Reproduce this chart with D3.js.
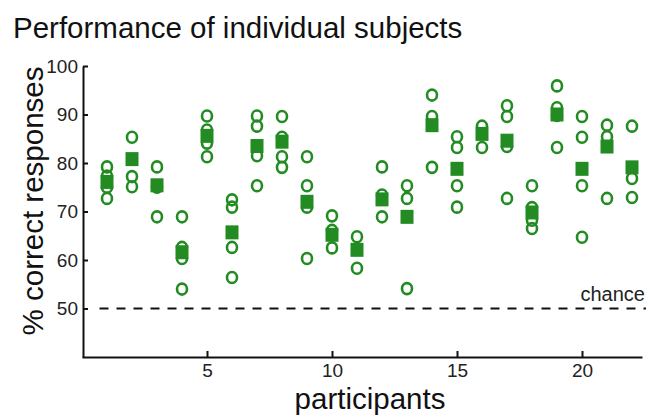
<!DOCTYPE html>
<html>
<head>
<meta charset="utf-8">
<script src="https://cdn.jsdelivr.net/npm/d3@7"></script>
<style>
  body { margin: 0; background: #fff; }
  text { font-family: "Liberation Sans", Arial, sans-serif; }
</style>
</head>
<body>
<div id="chart"></div>
<script>
// participants along the x axis
var participants = [1, 2, 3, 4, 5, 6, 7, 8, 9, 10, 11, 12, 13, 14, 15, 16, 17, 18, 19, 20, 21, 22];

// % correct of each session (open circles)
var sessionScores = [
  [79.2, 77.3, 75.0, 72.7],
  [85.3, 77.2, 75.1],
  [79.2, 75.0, 68.9],
  [68.9, 62.6, 60.3, 54.0],
  [89.7, 86.8, 84.1, 81.3],
  [72.4, 70.9, 62.6, 56.4],
  [89.7, 87.6, 81.5, 75.3],
  [89.6, 85.3, 81.3, 79.1],
  [81.3, 75.3, 70.9, 60.3],
  [69.1, 66.1, 62.5],
  [64.8, 58.3],
  [79.2, 73.4, 68.9],
  [75.3, 72.7, 54.1],
  [94.0, 89.6, 79.1],
  [85.4, 83.2, 75.3, 70.9],
  [87.6, 83.2],
  [91.8, 89.6, 83.4, 72.7],
  [75.3, 70.8, 68.2, 66.5],
  [95.9, 91.4, 89.8, 83.2],
  [89.6, 85.3, 75.3, 64.7],
  [87.8, 85.4, 72.7],
  [87.6, 76.8, 72.9]
];

// overall % correct (filled squares)
var meanScores = [76.1, 80.8, 75.4, 61.6, 85.6, 65.7, 83.5, 84.4, 72.0, 65.2, 62.1, 72.5,
  68.9, 87.8, 78.8, 86.0, 84.6, 69.8, 90.0, 78.8, 83.4, 79.1];

var xTicks = [5, 10, 15, 20];
var yTicks = [50, 60, 70, 80, 90, 100];
var chanceLevel = 50;

var width = 646, height = 416;
var green = "#228b22";

var svg = d3.select("#chart")
  .append("svg")
  .attr("width", width)
  .attr("height", height);

var x = d3.scaleLinear()
  .domain([0, 22.4])
  .range([82, 642]);

var y = d3.scaleLinear()
  .domain([40, 100])
  .range([357, 66]);

// title
svg.append("text")
  .attr("x", 13)
  .attr("y", 38)
  .style("font-size", "29.5px")
  .style("fill", "#111")
  .text("Performance of individual subjects");

// chance line
svg.append("line")
  .attr("x1", x(0.7))
  .attr("x2", width)
  .attr("y1", y(chanceLevel))
  .attr("y2", y(chanceLevel))
  .attr("stroke", "#111")
  .attr("stroke-width", 2)
  .attr("stroke-dasharray", "9,8");

svg.append("text")
  .attr("x", 645)
  .attr("y", 301)
  .attr("text-anchor", "end")
  .style("font-size", "20px")
  .style("fill", "#222")
  .text("chance");

// axes
var xAxis = svg.append("g")
  .attr("transform", "translate(0," + y(40) + ")")
  .call(d3.axisBottom(x)
    .tickValues(xTicks)
    .tickSizeInner(-6)
    .tickSizeOuter(0)
    .tickPadding(7));

var yAxis = svg.append("g")
  .attr("transform", "translate(" + (x(0) + 1) + ",0)")
  .call(d3.axisLeft(y)
    .tickValues(yTicks)
    .tickSizeInner(-5)
    .tickSizeOuter(0)
    .tickPadding(5));

[xAxis, yAxis].forEach(function (g) {
  g.select(".domain").attr("stroke", "#111").attr("stroke-width", 2);
  g.selectAll(".tick line").attr("stroke", "#111").attr("stroke-width", 2);
  g.selectAll(".tick text")
    .style("font-size", "19px")
    .style("font-family", "'Liberation Sans', Arial, sans-serif")
    .style("fill", "#222");
});

// axis labels
svg.append("text")
  .attr("x", 370)
  .attr("y", 409)
  .attr("text-anchor", "middle")
  .style("font-size", "29.5px")
  .style("fill", "#111")
  .text("participants");

svg.append("text")
  .attr("transform", "rotate(-90)")
  .attr("x", -201)
  .attr("y", 43)
  .attr("text-anchor", "middle")
  .style("font-size", "29.5px")
  .style("fill", "#111")
  .text("% correct responses");

// session circles
var sessions = [];
participants.forEach(function (p, i) {
  sessionScores[i].forEach(function (v) {
    sessions.push({ p: p, v: v });
  });
});

svg.append("g")
  .selectAll("ellipse")
  .data(sessions)
  .enter()
  .append("ellipse")
  .attr("cx", function (d) { return x(d.p); })
  .attr("cy", function (d) { return y(d.v); })
  .attr("rx", 5)
  .attr("ry", 5.5)
  .attr("fill", "none")
  .attr("stroke", green)
  .attr("stroke-width", 2.6);

// mean squares
svg.append("g")
  .selectAll("rect")
  .data(participants)
  .enter()
  .append("rect")
  .attr("x", function (p) { return x(p) - 6.5; })
  .attr("y", function (p, i) { return y(meanScores[i]) - 7; })
  .attr("width", 13)
  .attr("height", 14)
  .attr("fill", green);
</script>
</body>
</html>
